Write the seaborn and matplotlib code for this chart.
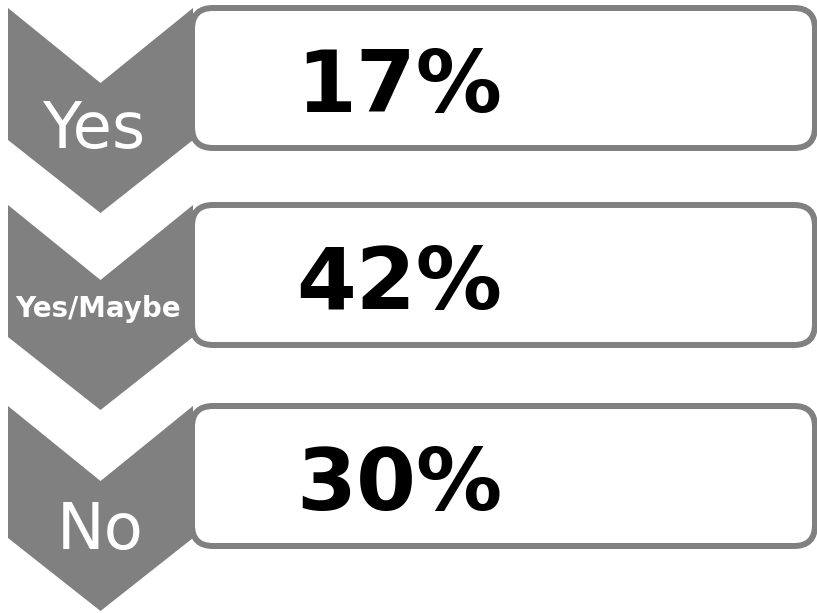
import matplotlib
matplotlib.use("Agg")
import matplotlib.pyplot as plt
from matplotlib.patches import Polygon, FancyBboxPatch
import seaborn as sns

# Survey answers and their shares
answers = ["Yes", "Yes/Maybe", "No"]
shares = [17, 42, 30]

sns.set_theme(style="white")
plt.rcParams["font.family"] = ["DejaVu Sans"]

GRAY = "#808080"
W, H = 817, 613
fig = plt.figure(figsize=(W / 100, H / 100), dpi=100)
ax = fig.add_axes([0, 0, 1, 1])
ax.set_xlim(0, W)
ax.set_ylim(H, 0)
ax.axis("off")

# Per-row label styling (font size, weight, baseline offset within the row)
label_style = {
    "Yes": dict(size=46, weight="normal", dy=140, cx=94),
    "Yes/Maybe": dict(size=20, weight="bold", dy=112, cx=98),
    "No": dict(size=46, weight="normal", dy=143, cx=100),
}

row_tops = [8, 205, 406]
chev_l, chev_r = 8, 193
notch, side = 75, 132
point = 73
box_l, box_r, box_h = 192, 815, 140

for top, ans, val in zip(row_tops, answers, shares):
    mid = (chev_l + chev_r) / 2

    # rounded value box
    box = FancyBboxPatch((box_l, top), box_r - box_l, box_h,
                         boxstyle="round,pad=0,rounding_size=21",
                         facecolor="white", edgecolor=GRAY, linewidth=4.3,
                         zorder=1)
    ax.add_patch(box)

    # downward chevron
    chev = Polygon([(chev_l, top), (mid, top + notch), (chev_r, top),
                    (chev_r, top + side), (mid, top + side + point),
                    (chev_l, top + side)],
                   closed=True, facecolor=GRAY, edgecolor="none", zorder=2)
    ax.add_patch(chev)

    st = label_style[ans]
    ax.text(st["cx"], top + st["dy"], ans, color="white", fontsize=st["size"],
            fontweight=st["weight"], ha="center", va="baseline", zorder=3)

    ax.text(399, top + 104, f"{val}%", color="black", fontsize=62,
            fontweight="bold", ha="center", va="baseline", zorder=3)

fig.savefig("out.png", dpi=100, facecolor="white")
